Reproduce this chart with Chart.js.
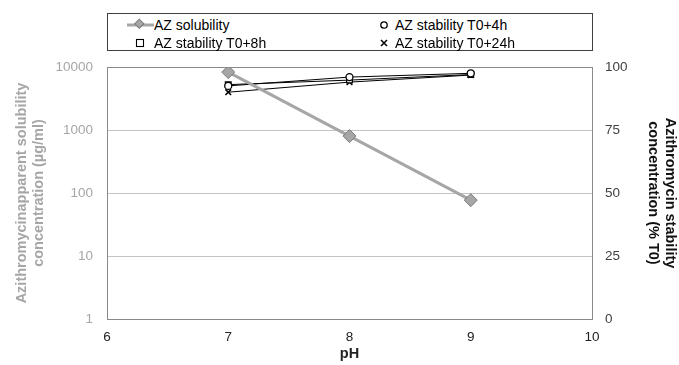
<!DOCTYPE html>
<html>
<head>
<meta charset="utf-8">
<script src="https://cdn.jsdelivr.net/npm/chart.js@4/dist/chart.umd.min.js"></script>
<style>
  body { margin: 0; background: #fff; font-family: "Liberation Sans", Arial, sans-serif; }
  #wrap { position: relative; width: 679px; height: 365px; }
  #legend {
    position: absolute; left: 107px; top: 13px; width: 484px; height: 36px;
    border: 1.5px solid #404040; background: #fff; font-size: 14px; color: #000;
  }
  .item { position: absolute; height: 18px; line-height: 18px; white-space: nowrap; }
  .item svg { position: absolute; top: 0; }
  .item span { position: absolute; top: 0; }
</style>
</head>
<body>
<div id="wrap">
  <canvas id="chart" width="679" height="365"></canvas>
  <div id="legend"></div>
</div>
<script>
// données
const phValues = [7, 8, 9];
const solubility = [8300, 800, 77];          // µg/ml (axe log)
const stability4h = [92.5, 96, 97.5];         // % T0
const stability8h = [93, 94.8, 97];
const stability24h = [90, 94, 96.8];
const logTicks = [1, 10, 100, 1000, 10000];
const legendLabels = ['AZ solubility', 'AZ stability T0+4h', 'AZ stability T0+8h', 'AZ stability T0+24h'];

function toPoints(ys) {
  return phValues.map((x, i) => ({ x: x, y: ys[i] }));
}

// cadre de la zone de tracé
const plotBorder = {
  id: 'plotBorder',
  afterDatasetsDraw(chart) {
    const a = chart.chartArea;
    const ctx = chart.ctx;
    ctx.save();
    ctx.strokeStyle = '#8a8a8a';
    ctx.lineWidth = 1;
    ctx.strokeRect(Math.round(a.left) + 0.5, Math.round(a.top) + 0.5,
      Math.round(a.right - a.left), Math.round(a.bottom - a.top));
    ctx.restore();
  }
};

const ctx = document.getElementById('chart').getContext('2d');
const chart = new Chart(ctx, {
  type: 'line',
  data: {
    datasets: [
      {
        label: legendLabels[0],
        data: toPoints(solubility),
        yAxisID: 'y',
        borderColor: '#a6a6a6',
        borderWidth: 3,
        pointStyle: 'rectRot',
        pointRadius: 6.5,
        pointBackgroundColor: '#a6a6a6',
        pointBorderColor: '#7a7a7a',
        pointBorderWidth: 1
      },
      {
        label: legendLabels[1],
        data: toPoints(stability4h),
        yAxisID: 'y2',
        borderColor: '#000',
        borderWidth: 1,
        pointStyle: 'circle',
        pointRadius: 3.5,
        pointBackgroundColor: '#fff',
        pointBorderColor: '#000',
        pointBorderWidth: 1.3
      },
      {
        label: legendLabels[2],
        data: toPoints(stability8h),
        yAxisID: 'y2',
        borderColor: '#000',
        borderWidth: 1,
        pointStyle: 'rect',
        pointRadius: 4,
        pointBackgroundColor: '#fff',
        pointBorderColor: '#000',
        pointBorderWidth: 1.3
      },
      {
        label: legendLabels[3],
        data: toPoints(stability24h),
        yAxisID: 'y2',
        borderColor: '#000',
        borderWidth: 1,
        pointStyle: 'crossRot',
        pointRadius: 4,
        pointBorderColor: '#000',
        pointBorderWidth: 1.5
      }
    ]
  },
  options: {
    responsive: false,
    animation: false,
    layout: { padding: { top: 67, left: 0, right: 0, bottom: 0 } },
    plugins: { legend: { display: false }, tooltip: { enabled: false } },
    scales: {
      x: {
        type: 'linear',
        min: 6, max: 10,
        afterFit(s) { s.height = 46; },
        ticks: { stepSize: 1, color: '#222', padding: 10, font: { family: 'Liberation Sans', size: 13.5 } },
        grid: { display: false, drawTicks: false },
        border: { display: false },
        title: { display: true, text: 'pH', color: '#222', padding: { top: 0, bottom: 2 },
          font: { family: 'Liberation Sans', size: 14.5, weight: 'bold' } }
      },
      y: {
        type: 'logarithmic',
        position: 'left',
        min: 1, max: 10000,
        afterFit(s) { s.width = 107; },
        afterBuildTicks(s) { s.ticks = logTicks.map(v => ({ value: v })); },
        ticks: {
          color: '#a6a6a6', padding: 14,
          font: { family: 'Liberation Sans', size: 13.5 },
          callback: v => String(v)
        },
        grid: { color: '#c4c4c4', drawTicks: false },
        border: { display: false },
        title: {
          display: true,
          text: ['Azithromycinapparent solubility', 'concentration (µg/ml)'],
          color: '#a6a6a6', padding: { top: 13, bottom: 0 },
          font: { family: 'Liberation Sans', size: 14.5, weight: 'bold', lineHeight: 1.2 }
        }
      },
      y2: {
        type: 'linear',
        position: 'right',
        min: 0, max: 100,
        afterFit(s) { s.width = 87; },
        ticks: { stepSize: 25, color: '#404040', padding: 13, font: { family: 'Liberation Sans', size: 13.5 } },
        grid: { display: false, drawTicks: false },
        border: { display: false },
        title: {
          display: true,
          text: ['Azithromycin stability', 'concentration (% T0)'],
          color: '#111', padding: { top: 0, bottom: 0 },
          font: { family: 'Liberation Sans', size: 14.5, weight: 'bold', lineHeight: 1.2 }
        }
      }
    }
  },
  plugins: [plotBorder]
});

// légende en deux colonnes, comme dans l'original
const markers = [
  '<svg width="30" height="18"><line x1="0" y1="9" x2="27" y2="9" stroke="#a6a6a6" stroke-width="3"/>' +
    '<rect x="9" y="4.5" width="6.5" height="6.5" transform="rotate(45 12.3 7.8)" fill="#a6a6a6" stroke="#7a7a7a"/></svg>',
  '<svg width="14" height="18"><circle cx="6" cy="9" r="3.2" fill="#fff" stroke="#000" stroke-width="1.3"/></svg>',
  '<svg width="14" height="18"><rect x="2.5" y="5.5" width="7" height="7" fill="#fff" stroke="#000" stroke-width="1.1"/></svg>',
  '<svg width="14" height="18"><path d="M3 6 L9 12 M9 6 L3 12" stroke="#000" stroke-width="1.5"/></svg>'
];
const legendPos = [
  { left: 19, top: 2, text: 46 },
  { left: 270, top: 2, text: 287 },
  { left: 26, top: 20, text: 46 },
  { left: 270, top: 20, text: 287 }
];
const legend = document.getElementById('legend');
legendLabels.forEach((label, i) => {
  const p = legendPos[i];
  const div = document.createElement('div');
  div.className = 'item';
  div.style.top = p.top + 'px';
  div.innerHTML = `<svg style="left:${p.left}px" width="30" height="18">${markers[i].replace(/^<svg[^>]*>|<\/svg>$/g, '')}</svg>` +
    `<span style="left:${p.text}px">${label}</span>`;
  legend.appendChild(div);
});
</script>
</body>
</html>
